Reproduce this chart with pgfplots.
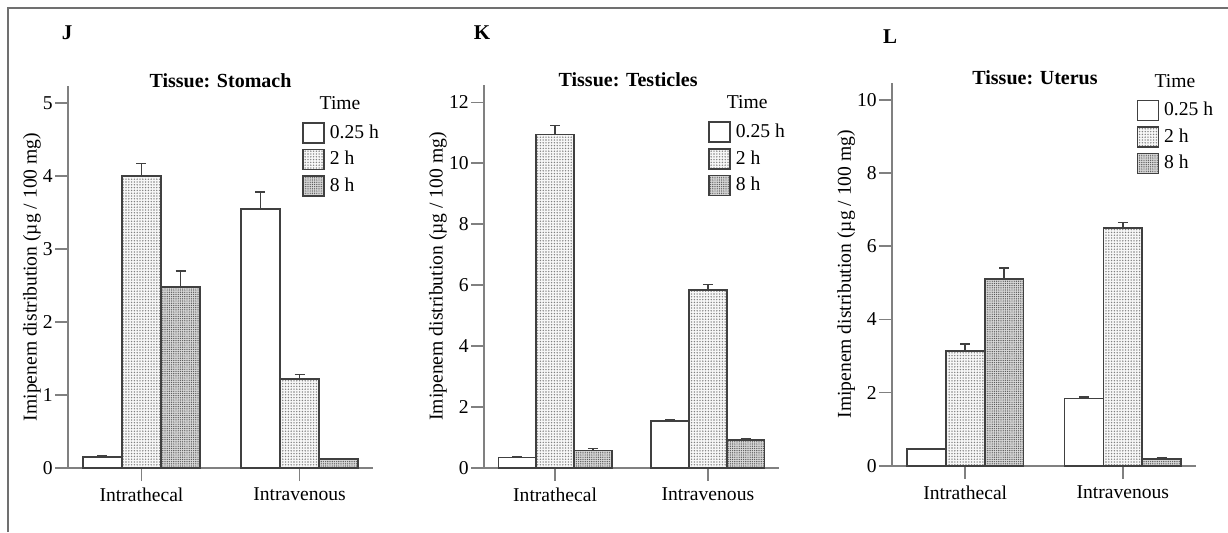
\documentclass[border=0pt]{standalone}
\usepackage{fontspec}
\setmainfont{Liberation Serif}
\usepackage{pgfplots}
\pgfplotsset{compat=1.18}
\usetikzlibrary{patterns.meta}

\definecolor{axgray}{HTML}{808080}
\definecolor{bardark}{HTML}{404040}
\definecolor{framegray}{HTML}{707070}

\pgfplotsset{
  panel/.style={
    scale only axis, clip=false,
    ybar=0pt, bar width=0.247,
    xmin=-0.465, xmax=1.465, ymin=0,
    axis x line*=bottom, axis y line*=left,
    axis line style={axgray, line width=0.8pt},
    tick style={axgray, line width=0.8pt},
    tick align=outside, major tick length=6.5pt,
    xtick={0,1}, xticklabels={Intrathecal,Intravenous},
    font=\fontsize{9.8}{11.8}\selectfont,
    yticklabel style={inner sep=1pt},
    /pgf/number format/assume math mode=true,
    ylabel={Imipenem distribution (µg / 100 mg)},
    title style={font=\fontsize{10}{12}\selectfont\bfseries, at={(0.5,1)}, anchor=center, yshift=-3.5pt},
    legend style={draw=none, fill=none, inner sep=0pt, anchor=north west,
      nodes={inner sep=0pt, anchor=west}, row sep=2.5pt, column sep=2.5pt},
    legend cell align=left,
    legend image code/.code={\draw[#1] (0pt,-5pt) rectangle (10.5pt,5pt);},
  },
  eb/.style={draw=bardark, line width=0.8pt,
    error bars/y dir=plus, error bars/y explicit,
    error bars/error bar style={bardark, line width=0.8pt},
    error bars/error mark options={rotate=90, bardark, line width=0.8pt, mark size=2.5pt}},
  t1/.style={eb, fill=white},
  t2/.style={eb, fill=gray!6, postaction={pattern={Dots[distance=1.4pt,radius=0.38pt]}, pattern color=gray}},
  t3/.style={eb, fill=gray!30, postaction={pattern={Dots[distance=1.1pt,radius=0.35pt]}, pattern color=gray!70!black}},
}

% stomach
\pgfplotstableread{
x y e
0 0.15 0.02
1 3.55 0.23
}\jA
\pgfplotstableread{
x y e
0 4.00 0.17
1 1.22 0.06
}\jB
\pgfplotstableread{
x y e
0 2.48 0.22
1 0.12 0.01
}\jC
% testicles
\pgfplotstableread{
x y e
0 0.33 0.02
1 1.53 0.03
}\kA
\pgfplotstableread{
x y e
0 10.95 0.29
1 5.84 0.18
}\kB
\pgfplotstableread{
x y e
0 0.56 0.07
1 0.91 0.04
}\kC
% uterus
\pgfplotstableread{
x y e
0 0.45 0.02
1 1.84 0.03
}\lA
\pgfplotstableread{
x y e
0 3.14 0.19
1 6.49 0.16
}\lB
\pgfplotstableread{
x y e
0 5.10 0.31
1 0.19 0.02
}\lC

\begin{document}
\begin{tikzpicture}
\useasboundingbox (0,0) rectangle (614pt,266pt);
\draw[framegray, line width=0.75pt] (4pt,0) -- (4pt,262pt) -- (614pt,262pt);

\node[font=\fontsize{10.5}{12}\selectfont\bfseries] at (33.5pt,249.5pt) {J};
\node[font=\fontsize{10.5}{12}\selectfont\bfseries] at (241pt,249.5pt) {K};
\node[font=\fontsize{10.5}{12}\selectfont\bfseries] at (445pt,247.5pt) {L};

\begin{axis}[panel, at={(34pt,32pt)}, width=152.5pt, height=191pt,
  ymax=5.23, ytick={0,1,...,5},
  ylabel style={at={(axis description cs:-0.118,0.5)}, anchor=center},
  title={Tissue: Stomach},
  legend style={at={(0.767,0.907)}}]
\addplot[t1] table[x=x, y=y, y error=e] {\jA};
\addplot[t2] table[x=x, y=y, y error=e] {\jB};
\addplot[t3] table[x=x, y=y, y error=e] {\jC};
\legend{0.25 h, 2 h, 8 h}
\node at (rel axis cs:0.892,0.955) {Time};
\end{axis}

\begin{axis}[panel, at={(242pt,32.15pt)}, width=147.5pt, height=191.35pt,
  ymax=12.57, ytick={0,2,...,12},
  ylabel style={at={(axis description cs:-0.156,0.5)}, anchor=center},
  title={Tissue: Testicles}, title style={xshift=-1.7pt},
  legend style={at={(0.759,0.906)}}]
\addplot[t1] table[x=x, y=y, y error=e] {\kA};
\addplot[t2] table[x=x, y=y, y error=e] {\kB};
\addplot[t3] table[x=x, y=y, y error=e] {\kC};
\legend{0.25 h, 2 h, 8 h}
\node at (rel axis cs:0.892,0.956) {Time};
\end{axis}

\begin{axis}[panel, at={(446pt,33.15pt)}, width=152pt, height=191.5pt,
  ymax=10.47, ytick={0,2,...,10},
  ylabel style={at={(axis description cs:-0.151,0.5)}, anchor=center},
  title={Tissue: Uterus}, title style={xshift=-4.5pt},
  legend style={at={(0.803,0.957)}}]
\addplot[t1] table[x=x, y=y, y error=e] {\lA};
\addplot[t2] table[x=x, y=y, y error=e] {\lB};
\addplot[t3] table[x=x, y=y, y error=e] {\lC};
\legend{0.25 h, 2 h, 8 h}
\node at (rel axis cs:0.931,1.004) {Time};
\end{axis}
\end{tikzpicture}
\end{document}
